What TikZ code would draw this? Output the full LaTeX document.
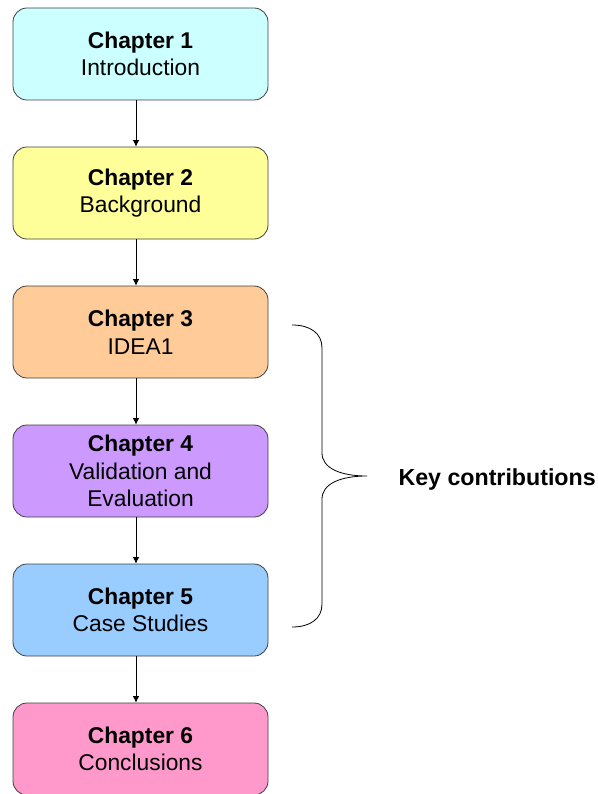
\documentclass[tikz,border=0pt]{standalone}
\usepackage{fontspec}
\setmainfont{Liberation Sans}
\usetikzlibrary{arrows.meta}
\definecolor{introc}{HTML}{CCFFFF}
\definecolor{backc}{HTML}{FFFF99}
\definecolor{ideac}{HTML}{FFCC99}
\definecolor{evalc}{HTML}{CC99FF}
\definecolor{casec}{HTML}{99CCFF}
\definecolor{conclc}{HTML}{FF99CC}
\tikzset{
  chapter/.style={
    rectangle,
    rounded corners=14pt,
    draw=black!75,
    line width=0.8pt,
    minimum width=255pt,
    minimum height=92pt,
    align=center,
    font=\fontsize{22.8}{27.5}\selectfont
  }
}
\tikzstyle{arrow} = [-{Latex[length=6.5pt,width=6.5pt]}, line width=0.8pt]
\def\chap#1#2{\textbf{Chapter #1}\\#2}

\begin{document}
\begin{tikzpicture}[x=1pt,y=-1pt]
    \useasboundingbox (0,0) rectangle (597,794);
    \node[chapter, fill=introc] (c1) at (140.5, 54) {\chap{1}{Introduction}};
    \node[chapter, fill=backc] (c2) at (140.5, 193) {\chap{2}{Background}};
    \node[chapter, fill=ideac] (c3) at (140.5, 332) {\chap{3}{IDEA1}};
    \node[chapter, fill=evalc] (c4) at (140.5, 471) {\chap{4}{Validation and\\Evaluation}};
    \node[chapter, fill=casec] (c5) at (140.5, 610) {\chap{5}{Case Studies}};
    \node[chapter, fill=conclc] (c6) at (140.5, 749) {\chap{6}{Conclusions}};
    \draw[arrow] ([xshift=-4.5pt]c1.south) -- ([xshift=-4.5pt]c2.north);
    \draw[arrow] ([xshift=-4.5pt]c2.south) -- ([xshift=-4.5pt]c3.north);
    \draw[arrow] ([xshift=-4.5pt]c3.south) -- ([xshift=-4.5pt]c4.north);
    \draw[arrow] ([xshift=-4.5pt]c4.south) -- ([xshift=-4.5pt]c5.north);
    \draw[arrow] ([xshift=-4.5pt]c5.south) -- ([xshift=-4.5pt]c6.north);
    % brace and its label
    \coordinate (tip) at (367, 476);
    \node[anchor=west, font=\fontsize{23.2}{26}\selectfont\bfseries] (key) at (395, 479) {Key contributions};
    \draw[line width=0.8pt] (292, 325) .. controls (310, 325) and (322, 333) .. (322, 348)
      -- (322, 453) .. controls (322, 468) and (340, 476) .. (tip)
      .. controls (340, 476) and (322, 484) .. (322, 499)
      -- (322, 604) .. controls (322, 619) and (310, 627) .. (292, 627);
\end{tikzpicture}
\end{document}
